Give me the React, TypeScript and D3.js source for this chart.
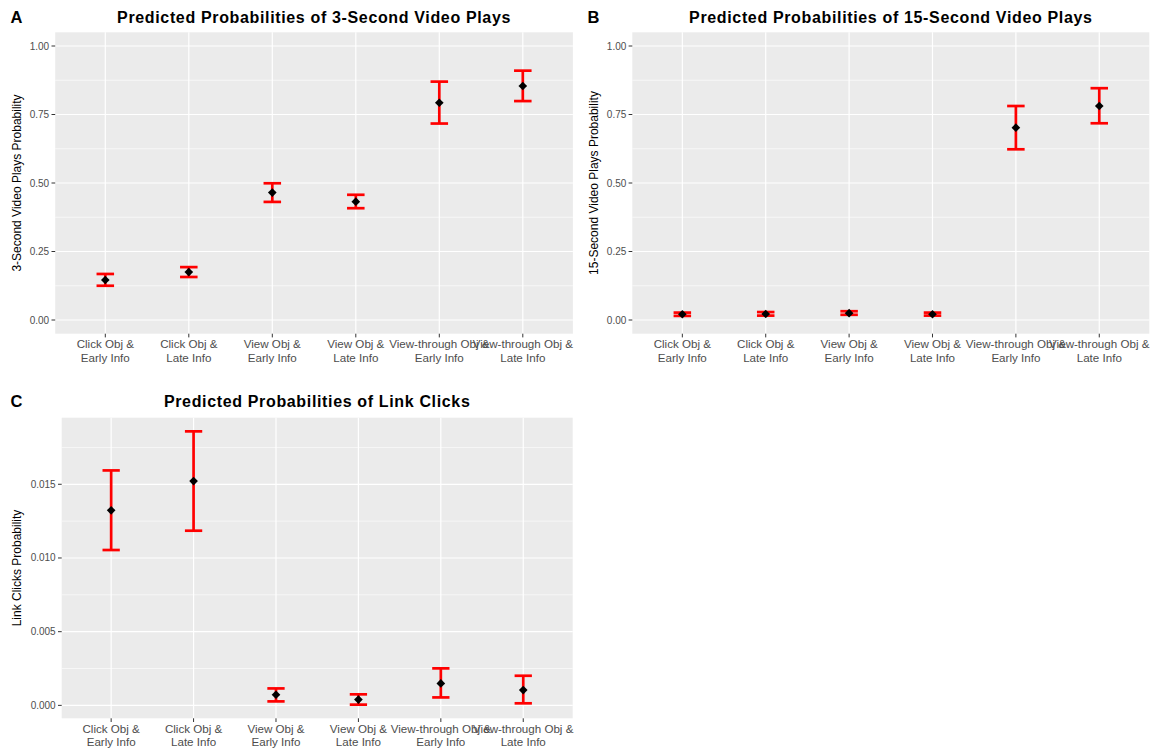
import React from "react";
import * as d3 from "d3";

// Condition labels (two lines each)
const categories: string[][] = [
  ["Click Obj &", "Early Info"],
  ["Click Obj &", "Late Info"],
  ["View Obj &", "Early Info"],
  ["View Obj &", "Late Info"],
  ["View-through Obj &", "Early Info"],
  ["View-through Obj &", "Late Info"],
];

// 3-second video plays: estimate and 95% interval
const plays3Est = [0.146, 0.175, 0.465, 0.432, 0.793, 0.854];
const plays3Lo = [0.125, 0.157, 0.431, 0.408, 0.717, 0.799];
const plays3Hi = [0.168, 0.193, 0.499, 0.457, 0.870, 0.910];

// 15-second video plays
const plays15Est = [0.021, 0.022, 0.025, 0.021, 0.702, 0.781];
const plays15Lo = [0.015, 0.016, 0.019, 0.016, 0.623, 0.718];
const plays15Hi = [0.027, 0.029, 0.032, 0.027, 0.781, 0.846];

// Link clicks
const clicksEst = [0.01323, 0.01522, 0.00072, 0.00039, 0.00149, 0.00104];
const clicksLo = [0.01054, 0.01185, 0.00027, 0.00005, 0.00054, 0.00014];
const clicksHi = [0.01594, 0.01859, 0.00115, 0.00075, 0.00251, 0.00201];

// Axis breaks
const probTicks = [0, 0.25, 0.5, 0.75, 1];
const probMinor = [0.125, 0.375, 0.625, 0.875];
const clickTicks = [0, 0.005, 0.01, 0.015];
const clickMinor = [0.0025, 0.0075, 0.0125, 0.0175];

const FONT = "'Liberation Sans', Arial, Helvetica, sans-serif";

type PanelProps = {
  tag: string;
  title: string;
  yTitle: string;
  left: number;
  right: number;
  top: number;
  bottom: number;
  domain: [number, number];
  ticks: number[];
  minor: number[];
  fmt: (v: number) => string;
  est: number[];
  lo: number[];
  hi: number[];
  tagX: number;
  tagY: number;
  yTitleX: number;
};

function Panel(p: PanelProps) {
  const x = d3
    .scalePoint<number>()
    .domain(d3.range(categories.length))
    .range([p.left, p.right])
    .padding(0.6);
  const [d0, d1] = p.domain;
  const pad = (d1 - d0) * 0.05;
  const y = d3.scaleLinear().domain([d0 - pad, d1 + pad]).range([p.bottom, p.top]);
  const step = x.step();
  const capHalf = (step * 0.21) / 2;
  const diamond = d3.symbol().type(d3.symbolDiamond2).size(48)();
  const cx = (p.left + p.right) / 2;
  const cy = (p.top + p.bottom) / 2;

  return (
    <g>
      <text x={p.tagX} y={p.tagY} fontFamily={FONT} fontWeight="bold" fontSize={16.5} fill="#000">
        {p.tag}
      </text>
      <text
        x={cx}
        y={p.tagY}
        textAnchor="middle"
        fontFamily={FONT}
        fontWeight="bold"
        fontSize={16}
        letterSpacing={0.65}
        fill="#000"
      >
        {p.title}
      </text>
      <rect x={p.left} y={p.top} width={p.right - p.left} height={p.bottom - p.top} fill="#EBEBEB" />
      {p.minor.map((t) =>
        y(t) >= p.top && y(t) <= p.bottom ? (
          <line key={"mi" + t} x1={p.left} x2={p.right} y1={y(t)} y2={y(t)} stroke="#fff" strokeWidth={0.6} />
        ) : null
      )}
      {p.ticks.map((t) => (
        <line key={"ma" + t} x1={p.left} x2={p.right} y1={y(t)} y2={y(t)} stroke="#fff" strokeWidth={1.2} />
      ))}
      {categories.map((_, i) => (
        <line key={"vx" + i} x1={x(i)} x2={x(i)} y1={p.top} y2={p.bottom} stroke="#fff" strokeWidth={1.2} />
      ))}
      {/* y axis ticks and labels */}
      {p.ticks.map((t) => (
        <g key={"yt" + t}>
          <line x1={p.left - 3.7} x2={p.left} y1={y(t)} y2={y(t)} stroke="#333" strokeWidth={1} />
          <text
            x={p.left - 6}
            y={y(t)}
            dy="0.35em"
            textAnchor="end"
            fontFamily={FONT}
            fontSize={10}
            fill="#4D4D4D"
          >
            {p.fmt(t)}
          </text>
        </g>
      ))}
      {/* x axis ticks and labels */}
      {categories.map((lines, i) => (
        <g key={"xt" + i}>
          <line x1={x(i)} x2={x(i)} y1={p.bottom} y2={p.bottom + 3.7} stroke="#333" strokeWidth={1} />
          {lines.map((ln, j) => (
            <text
              key={j}
              x={x(i)}
              y={p.bottom + 14.6 + j * 13.3}
              textAnchor="middle"
              fontFamily={FONT}
              fontSize={11.6}
              fill="#4D4D4D"
            >
              {ln}
            </text>
          ))}
        </g>
      ))}
      <text
        transform={`translate(${p.yTitleX},${cy}) rotate(-90)`}
        textAnchor="middle"
        fontFamily={FONT}
        fontSize={12}
        fill="#000"
      >
        {p.yTitle}
      </text>
      {/* error bars */}
      {p.est.map((_, i) => {
        const xi = x(i) as number;
        return (
          <g key={"eb" + i} stroke="#FF0000" strokeWidth={2.7} fill="none">
            <line x1={xi} x2={xi} y1={y(p.lo[i])} y2={y(p.hi[i])} />
            <line x1={xi - capHalf} x2={xi + capHalf} y1={y(p.lo[i])} y2={y(p.lo[i])} />
            <line x1={xi - capHalf} x2={xi + capHalf} y1={y(p.hi[i])} y2={y(p.hi[i])} />
          </g>
        );
      })}
      {/* point estimates */}
      {p.est.map((v, i) => (
        <path key={"pt" + i} d={diamond as string} transform={`translate(${x(i)},${y(v)})`} fill="#000" />
      ))}
    </g>
  );
}

export default function App() {
  const fmt2 = d3.format(".2f");
  const fmt3 = d3.format(".3f");
  const clickMin = Math.min(...clicksLo);
  const clickMax = Math.max(...clicksHi);
  return (
    <svg
      width={1157}
      height={753}
      style={{ position: "absolute", left: 0, top: 0, background: "#fff" }}
    >
      <rect width={1157} height={753} fill="#fff" />
      <Panel
        tag="A"
        title="Predicted Probabilities of 3-Second Video Plays"
        yTitle="3-Second Video Plays Probability"
        left={55.2}
        right={572.9}
        top={32.3}
        bottom={333.7}
        domain={[0, 1]}
        ticks={probTicks}
        minor={probMinor}
        fmt={fmt2}
        est={plays3Est}
        lo={plays3Lo}
        hi={plays3Hi}
        tagX={10.5}
        tagY={22.7}
        yTitleX={21}
      />
      <Panel
        tag="B"
        title="Predicted Probabilities of 15-Second Video Plays"
        yTitle="15-Second Video Plays Probability"
        left={632.3}
        right={1149.3}
        top={32.3}
        bottom={333.7}
        domain={[0, 1]}
        ticks={probTicks}
        minor={probMinor}
        fmt={fmt2}
        est={plays15Est}
        lo={plays15Lo}
        hi={plays15Hi}
        tagX={587.5}
        tagY={22.7}
        yTitleX={598}
      />
      <Panel
        tag="C"
        title="Predicted Probabilities of Link Clicks"
        yTitle="Link Clicks Probability"
        left={61.7}
        right={572.7}
        top={417.7}
        bottom={718.3}
        domain={[clickMin, clickMax]}
        ticks={clickTicks}
        minor={clickMinor}
        fmt={fmt3}
        est={clicksEst}
        lo={clicksLo}
        hi={clicksHi}
        tagX={10.5}
        tagY={406.7}
        yTitleX={21}
      />
    </svg>
  );
}
